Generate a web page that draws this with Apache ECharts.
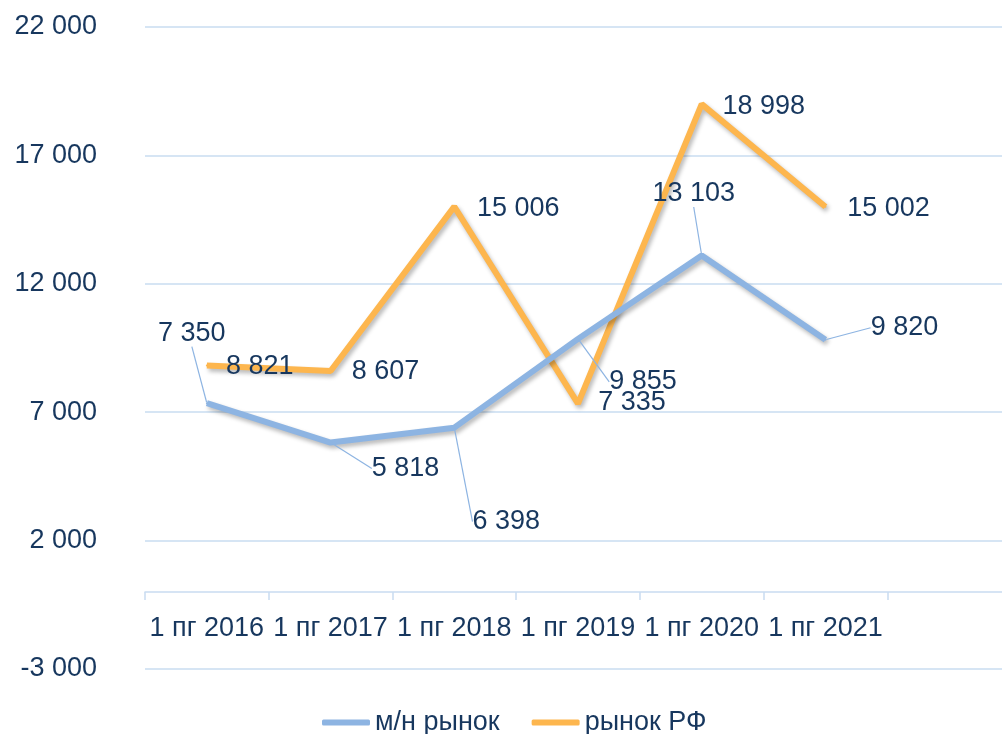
<!DOCTYPE html>
<html>
<head>
<meta charset="utf-8">
<script src="https://cdn.jsdelivr.net/npm/echarts@6/dist/echarts.min.js"></script>
<style>
html,body{margin:0;padding:0;background:#fff;overflow:hidden;width:1002px;height:734px;}
#chart{width:1011px;height:734px;}
</style>
</head>
<body>
<div id="chart"></div>
<script>
// ---- data ----
const categories = ['1 пг 2016', '1 пг 2017', '1 пг 2018', '1 пг 2019', '1 пг 2020', '1 пг 2021', ''];
const seriesNames = ['м/н рынок', 'рынок РФ'];
const mnMarket = [7350, 5818, 6398, 9855, 13103, 9820];
const rfMarket = [8821, 8607, 15006, 7335, 18998, 15002];
const yMin = -3000;
const yMax = 22000;
const yStep = 5000;

// ---- label layout (offsets of label centre from the point, px) ----
const mnLabelOffsets = [[-15, -70], [75, 26], [52, 94], [65, 43], [-8, -62], [79, -12]];
const rfLabelOffsets = [[53, 1], [55, 1], [64, 2], [54, -1], [62, 2], [63, 2]];

const TEXT = '#17375E';
const BLUE = '#8DB4E2';
const ORANGE = '#FDB64E';
const GRID = '#C9DCF1';
const FONT = 'Liberation Sans, Arial, sans-serif';
const FS = 27;

function fmt(v) {
  const neg = v < 0;
  let s = String(Math.abs(Math.round(v)));
  s = s.replace(/\B(?=(\d{3})+(?!\d))/g, ' ');
  return (neg ? '-' : '') + s;
}

const shadow = { shadowColor: 'rgba(0,0,0,0.28)', shadowBlur: 4, shadowOffsetX: 2, shadowOffsetY: 3 };

const GRID_TOP = 27, GRID_BOTTOM = 65, CH = 734;
// place the category axis at value 0 (the axis crosses the value axis at zero)
const plotH = CH - GRID_TOP - GRID_BOTTOM;
const zeroOffset = -plotH * (0 - yMin) / (yMax - yMin);

const chart = echarts.init(document.getElementById('chart'), null, { renderer: 'canvas' });
chart.setOption({
  animation: false,
  backgroundColor: '#fff',
  textStyle: { fontFamily: FONT },
  grid: { left: 145, right: 0, top: GRID_TOP, bottom: GRID_BOTTOM, containLabel: false },
  legend: {
    top: 704,
    left: 317,
    itemWidth: 48,
    itemHeight: 6,
    itemGap: 32,
    icon: 'roundRect',
    textStyle: { color: TEXT, fontSize: FS, fontFamily: FONT },
    data: seriesNames
  },
  xAxis: {
    type: 'category',
    data: categories,
    boundaryGap: true,
    position: 'bottom',
    offset: zeroOffset,
    axisLine: { show: true, onZero: false, lineStyle: { color: GRID, width: 1.5 } },
    axisTick: { show: true, length: 8, interval: 0, lineStyle: { color: GRID, width: 1.5 } },
    axisLabel: { interval: 0, color: TEXT, fontSize: FS, fontFamily: FONT, margin: 23 },
    splitLine: { show: false }
  },
  yAxis: {
    type: 'value',
    min: yMin,
    max: yMax,
    interval: yStep,
    axisLine: { show: false },
    axisTick: { show: false },
    axisLabel: { color: TEXT, fontSize: FS, fontFamily: FONT, margin: 48, formatter: fmt },
    splitLine: { show: true, lineStyle: { color: GRID, width: 1.5 } }
  },
  series: [
    {
      name: seriesNames[0],
      type: 'line',
      data: mnMarket,
      symbol: 'circle',
      symbolSize: 2,
      showSymbol: true,
      itemStyle: { color: BLUE },
      lineStyle: Object.assign({ color: BLUE, width: 6 }, shadow),
      z: 3,
      label: {
        show: true,
        position: 'inside',
        color: TEXT,
        fontSize: FS,
        fontFamily: FONT,
        formatter: p => fmt(p.value)
      },
      labelLine: { show: true, lineStyle: { color: BLUE, width: 1.2 } },
      labelLayout: p => ({ dx: mnLabelOffsets[p.dataIndex][0], dy: mnLabelOffsets[p.dataIndex][1] })
    },
    {
      name: seriesNames[1],
      type: 'line',
      data: rfMarket,
      symbol: 'circle',
      symbolSize: 2,
      showSymbol: true,
      itemStyle: { color: ORANGE },
      lineStyle: Object.assign({ color: ORANGE, width: 6 }, shadow),
      z: 2,
      label: {
        show: true,
        position: 'inside',
        color: TEXT,
        fontSize: FS,
        fontFamily: FONT,
        formatter: p => fmt(p.value)
      },
      labelLine: { show: false },
      labelLayout: p => ({ dx: rfLabelOffsets[p.dataIndex][0], dy: rfLabelOffsets[p.dataIndex][1] })
    }
  ]
});
</script>
</body>
</html>
